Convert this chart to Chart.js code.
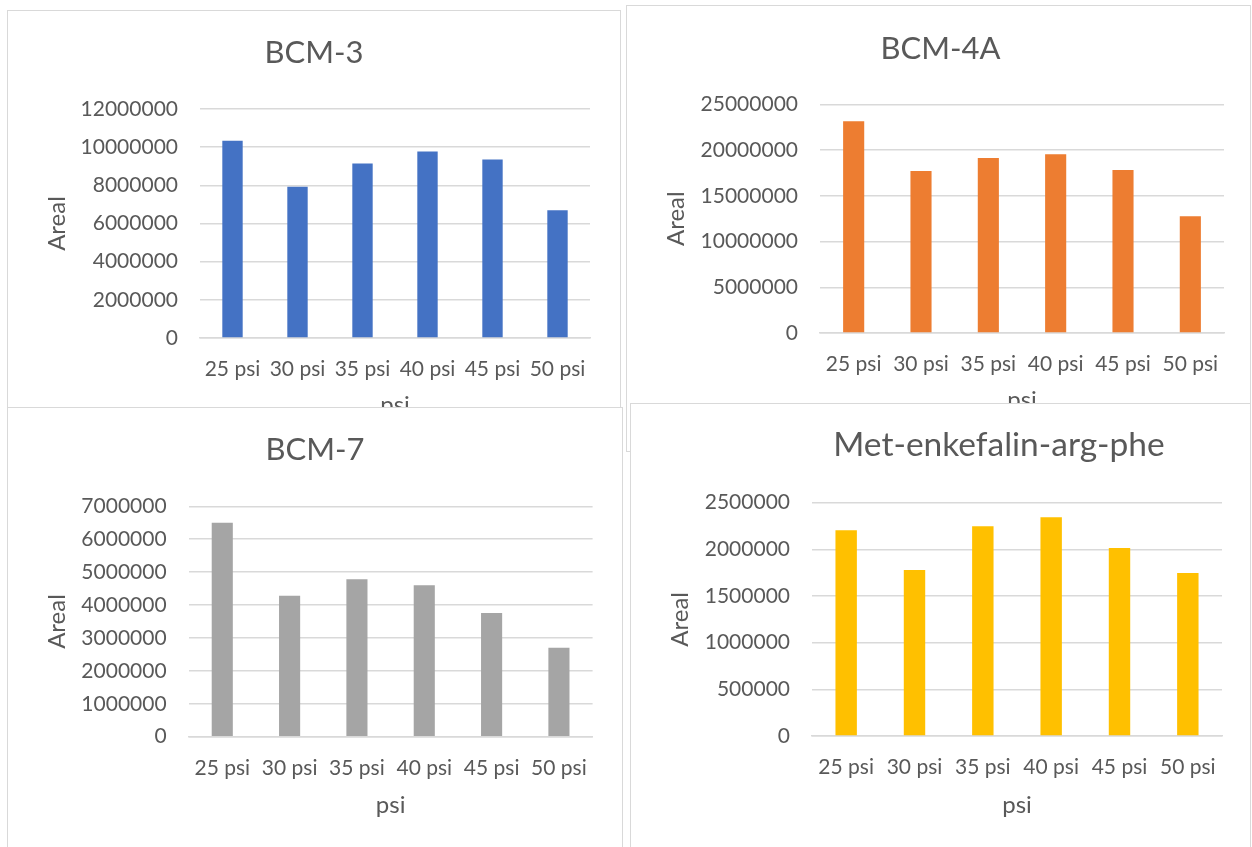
<!DOCTYPE html>
<html>
<head>
<meta charset="utf-8">
<title>Areal vs psi</title>
<script src="https://cdn.jsdelivr.net/npm/chart.js@4.4.1/dist/chart.umd.min.js"></script>
<style>
    body { margin: 0; width: 1252px; height: 847px; overflow: hidden; background: #fff; position: relative; }
    .panel { position: absolute; box-sizing: border-box; border: 1px solid #d9d9d9; background: #fff; overflow: hidden; }
    .panel canvas { position: absolute; left: 0; top: 0; }
</style>
</head>
<body>
<script>
const categories = ['25 psi', '30 psi', '35 psi', '40 psi', '45 psi', '50 psi'];

const bcm3 = [10330000, 7920000, 9150000, 9770000, 9350000, 6700000];
const bcm4a = [23140000, 17700000, 19130000, 19530000, 17810000, 12750000];
const bcm7 = [6500000, 4280000, 4780000, 4600000, 3760000, 2700000];
const metEnk = [2204000, 1779000, 2247000, 2343000, 2014000, 1747000];

const titles = ['BCM-3', 'BCM-4A', 'BCM-7', 'Met-enkefalin-arg-phe'];
const yMax = [12000000, 25000000, 7000000, 2500000];
const yStep = [2000000, 5000000, 1000000, 500000];

const seriesList = [bcm3, bcm4a, bcm7, metEnk];
const barColors = ['#4472C4', '#ED7D31', '#A5A5A5', '#FFC000'];

// box: [left, top, width, height], canvas: [w, h], plot: [left, top, right, bottom] in page px
const panels = [
    { box: [7, 10, 614, 440], canvas: [612, 438], plot: [200, 109, 590, 338], titleY: 52.5, titleSize: 31, yTitleX: 57, xTitleY: 405 },
    { box: [626, 5, 625, 447], canvas: [627, 445], plot: [820, 104.3, 1224, 333], titleY: 48.5, titleSize: 31, yTitleX: 676, xTitleY: 400 },
    { box: [7, 407, 616, 460], canvas: [614, 458], plot: [188.6, 506.3, 592.6, 736.7], titleY: 450.3, titleSize: 31, yTitleX: 57.5, xTitleY: 805 },
    { box: [630, 403, 621, 460], canvas: [736, 458], plot: [812, 502.7, 1222, 736], titleY: 445, titleSize: 33.5, yTitleX: 680.5, xTitleY: 805 }
];

const TEXT = '#595959';
const GRID = '#d9d9d9';
const FONT = 'Lato';
const TICK_SIZE = 21;
const AXIS_TITLE_SIZE = 24;

function makeChart(i) {
    const p = panels[i];
    const div = document.createElement('div');
    div.className = 'panel';
    div.style.left = p.box[0] + 'px';
    div.style.top = p.box[1] + 'px';
    div.style.width = p.box[2] + 'px';
    div.style.height = p.box[3] + 'px';
    const canvas = document.createElement('canvas');
    canvas.width = p.canvas[0];
    canvas.height = p.canvas[1];
    div.appendChild(canvas);
    document.body.appendChild(div);

    // work out paddings so the plot area lands where it should
    const ox = p.box[0] + 1, oy = p.box[1] + 1;
    const plotL = p.plot[0] - ox, plotT = p.plot[1] - oy;
    const plotR = p.plot[2] - ox, plotB = p.plot[3] - oy;
    const titleLH = p.titleSize * 1.2;
    const titlePadTop = p.titleY - oy - titleLH / 2;
    const titlePadBottom = plotT - titlePadTop - titleLH;
    const axisLH = AXIS_TITLE_SIZE * 1.2;
    const yTitlePad = p.yTitleX - ox - axisLH / 2;
    const xAxisBottom = p.xTitleY - oy + axisLH / 2;
    const rightGap = p.canvas[0] - plotR;

    return new Chart(canvas.getContext('2d'), {
        type: 'bar',
        data: {
            labels: categories,
            datasets: [{
                data: seriesList[i],
                backgroundColor: barColors[i],
                borderWidth: 0,
                categoryPercentage: 1,
                barPercentage: 0.3135
            }]
        },
        options: {
            responsive: false,
            animation: false,
            devicePixelRatio: 1,
            layout: {
                padding: { left: 0, top: 0, right: 0, bottom: p.canvas[1] - xAxisBottom }
            },
            plugins: {
                legend: { display: false },
                tooltip: { enabled: false },
                title: {
                    display: true,
                    text: titles[i],
                    color: TEXT,
                    font: { family: FONT, size: p.titleSize, weight: 'normal' },
                    padding: { top: titlePadTop, bottom: titlePadBottom }
                }
            },
            scales: {
                x: {
                    grid: { display: false, drawTicks: false },
                    border: { display: true, color: GRID, width: 1.5 },
                    ticks: { color: TEXT, font: { family: FONT, size: TICK_SIZE }, padding: 19, maxRotation: 0, autoSkip: false },
                    title: {
                        display: true,
                        text: 'psi',
                        color: TEXT,
                        font: { family: FONT, size: AXIS_TITLE_SIZE },
                        padding: 0
                    },
                    afterFit: scale => { scale.height = xAxisBottom - plotB; }
                },
                y: {
                    min: 0,
                    max: yMax[i],
                    grid: { color: GRID, lineWidth: 1.5, drawTicks: false },
                    border: { display: false },
                    ticks: {
                        stepSize: yStep[i],
                        color: TEXT,
                        font: { family: FONT, size: TICK_SIZE },
                        padding: 22,
                        callback: v => String(v)
                    },
                    title: {
                        display: true,
                        text: 'Areal',
                        color: TEXT,
                        font: { family: FONT, size: AXIS_TITLE_SIZE },
                        padding: { top: yTitlePad, bottom: 0 }
                    },
                    afterFit: scale => { scale.width = plotL; }
                },
                // empty right-hand axis, only keeps space between plot and chart edge
                gap: {
                    type: 'linear',
                    position: 'right',
                    grid: { display: false, drawTicks: false },
                    border: { display: false },
                    ticks: { display: false },
                    afterFit: scale => { scale.width = rightGap; }
                }
            }
        }
    });
}

for (let i = 0; i < panels.length; i++) {
    makeChart(i);
}
</script>
</body>
</html>
